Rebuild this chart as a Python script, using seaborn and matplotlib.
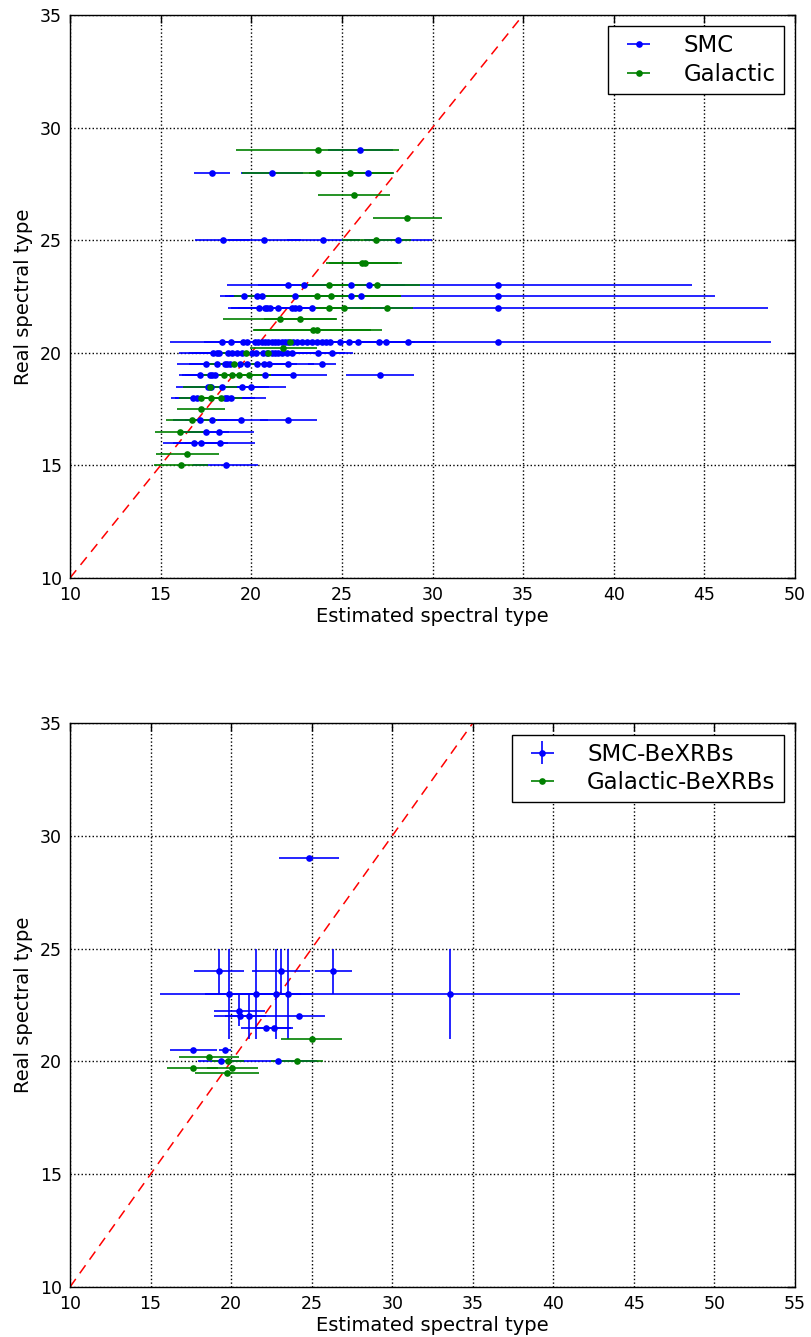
import matplotlib
matplotlib.use("Agg")
import matplotlib.pyplot as plt
import seaborn as sns
import pandas as pd

# ---------------- top panel data ----------------
smc_row_y = [29.0, 28.0, 25.0, 23.0, 22.5, 22.0, 20.5, 20.0, 19.5, 19.0, 18.5, 18.0, 17.0, 16.5, 16.0, 15.0]
smc_row_x = [
    [26.02],
    [17.83, 21.13, 26.42],
    [18.42, 20.72, 23.98, 28.08],
    [22.05, 22.9, 25.49, 26.48, 33.63],
    [19.62, 20.33, 20.59, 22.41, 25.52, 26.06, 33.63],
    [20.41, 20.77, 20.89, 21.03, 21.5, 22.23, 22.41, 22.65, 23.33, 33.63],
    [18.39, 18.88, 19.56, 19.78, 20.21, 20.39, 20.57, 20.76, 20.94, 21.13, 21.31, 21.49, 21.68, 21.86,
     22.05, 22.32, 22.54, 22.78, 23.06, 23.33, 23.61, 23.89, 24.12, 24.34, 24.9, 25.41, 25.87, 27.05,
     27.43, 28.67, 33.63],
    [17.91, 18.09, 18.22, 18.74, 18.92, 19.2, 19.47, 20.02, 20.26, 20.66, 20.85, 21.13, 21.31, 21.49,
     21.68, 21.95, 22.23, 23.66, 24.47],
    [17.5, 18.09, 18.55, 18.68, 18.83, 19.38, 19.75, 20.3, 20.7, 21.0, 22.05, 23.89],
    [17.17, 17.7, 17.85, 18.0, 20.76, 22.28, 27.1],
    [17.6, 17.8, 18.4, 19.47, 19.99],
    [16.8, 16.99, 18.55, 18.68, 18.87],
    [17.17, 17.82, 19.41, 22.05],
    [17.5, 18.24],
    [16.84, 17.21, 18.28],
    [18.6],
]
smc_row_xerr = [
    [1.8],
    [1.0, 1.7, 1.4],
    [1.5, 2.0, 2.0, 1.87],
    [3.4, 2.5, 2.0, 2.0, 10.67],
    [1.34, 1.8, 1.8, 1.8, 1.8, 1.8, 11.94],
    [1.5, 1.5, 1.2, 1.5, 1.6, 1.5, 1.5, 1.4, 1.5, 14.9],
    [2.87, 1.5, 1.4, 1.5, 1.6, 1.5, 1.4, 1.5, 1.6, 1.5, 1.4, 1.5, 1.6, 1.5,
     1.4, 1.5, 1.6, 1.5, 1.4, 1.5, 1.6, 1.5, 1.4, 1.5, 1.6, 1.5, 1.4, 1.5,
     1.6, 1.5, 15.07],
    [1.88, 1.5, 1.4, 1.5, 1.6, 1.5, 1.4, 1.5, 1.6, 1.5, 1.4, 1.5, 1.6, 1.5,
     1.4, 1.5, 1.6, 1.5, 1.13],
    [1.58, 1.5, 1.4, 1.5, 1.6, 1.5, 1.4, 1.5, 1.6, 1.5, 1.4, 0.77],
    [1.14, 1.5, 1.5, 1.5, 1.5, 1.88, 1.9],
    [1.77, 1.5, 1.5, 1.5, 1.93],
    [1.25, 1.2, 1.5, 1.5, 1.94],
    [1.5, 1.5, 1.5, 1.55],
    [1.3, 1.93],
    [1.69, 1.5, 1.92],
    [1.8],
]

gal_row_y = [29.0, 28.0, 27.0, 26.0, 25.0, 24.0, 23.0, 22.5, 22.0, 21.5, 21.0, 20.5, 20.2, 20.0,
             19.5, 19.0, 18.5, 18.0, 17.5, 17.0, 16.5, 15.5, 15.0]
gal_row_x = [[23.67], [23.67, 25.47], [25.67], [28.6], [26.9], [26.1, 26.3], [24.3, 26.92],
             [23.64, 24.38], [24.3, 25.12, 27.5], [21.59, 22.69], [23.39, 23.64], [22.14], [21.77],
             [19.73, 20.94], [19.07], [18.5, 18.94, 19.3, 19.9], [17.72], [17.23, 17.76, 18.31],
             [17.23], [16.71], [16.07], [16.47], [16.14]]
gal_row_xerr = [[4.5], [4.2, 2.3], [2.0], [1.9], [1.9], [2.0, 2.0], [1.6, 2.4], [4.6, 3.9],
                [0.8, 1.5, 1.4], [3.13, 2.0], [3.24, 3.56], [1.5], [1.85], [1.5, 1.5], [1.5],
                [1.2, 1.2, 1.2, 1.2], [1.5], [1.2, 1.2, 1.2], [1.3], [1.41], [1.38], [1.73], [1.5]]

# ---------------- bottom panel data ----------------
smcx_x = [24.82, 19.27, 23.08, 26.35, 19.85, 21.57, 22.81, 23.53, 33.59, 20.51, 20.55, 21.09,
          24.21, 22.17, 22.66, 17.65, 19.62, 19.37, 22.93]
smcx_y = [29.0, 24.0, 24.0, 24.0, 23.0, 23.0, 23.0, 23.0, 23.0, 22.25, 22.0, 22.0,
          22.0, 21.5, 21.5, 20.5, 20.5, 20.0, 20.0]
smcx_xerr = [1.86, 1.56, 1.8, 1.17, 1.5, 1.5, 1.5, 1.5, 18.0, 1.57, 1.6, 1.5,
             1.6, 1.55, 1.2, 1.47, 0.36, 1.4, 2.4]
smcx_yerr = [0.0, 1.0, 1.0, 1.0, 2.0, 2.0, 2.0, 2.0, 2.0, 0.7, 0.0, 1.0,
             0.0, 0.0, 0.0, 0.0, 0.0, 0.0, 0.0]

galx_x = [25.0, 18.63, 19.8, 24.09, 17.62, 20.08, 19.75]
galx_y = [21.0, 20.2, 20.0, 20.0, 19.7, 19.7, 19.5]
galx_xerr = [1.9, 1.87, 1.0, 1.6, 1.58, 1.6, 2.0]

diag = [10, 35]
top_xticks = [10, 15, 20, 25, 30, 35, 40, 45, 50]
bot_xticks = [10, 15, 20, 25, 30, 35, 40, 45, 50, 55]
yticks = [10, 15, 20, 25, 30, 35]


def flatten(rows_y, rows_x, rows_e):
    xs, ys, es = [], [], []
    for yv, xr, er in zip(rows_y, rows_x, rows_e):
        for xv, ev in zip(xr, er):
            xs.append(xv)
            ys.append(yv)
            es.append(ev)
    return pd.DataFrame({"x": xs, "y": ys, "xerr": es})


smc = flatten(smc_row_y, smc_row_x, smc_row_xerr)
gal = flatten(gal_row_y, gal_row_x, gal_row_xerr)

sns.set_theme(style="white")
plt.rcParams["font.family"] = ["DejaVu Sans"]
plt.rcParams["axes.edgecolor"] = "black"
plt.rcParams["axes.linewidth"] = 1.0
plt.rcParams["text.color"] = "black"
plt.rcParams["axes.labelcolor"] = "black"
plt.rcParams["xtick.color"] = "black"
plt.rcParams["ytick.color"] = "black"

fig = plt.figure(figsize=(8.11, 13.37), dpi=100)
ax1 = fig.add_axes([0.0863, 0.5677, 0.894, 0.4211])
ax2 = fig.add_axes([0.0863, 0.0374, 0.894, 0.4218])

BLUE = (0, 0, 1)
GREEN = (0, 0.5, 0)
ekw = dict(fmt="o", ms=4.8, mew=0, elinewidth=1.2, capsize=0, zorder=3)


def style(ax, xticks, xmax):
    ax.set_xlim(10, xmax)
    ax.set_ylim(10, 35)
    ax.set_xticks(xticks)
    ax.set_yticks(yticks)
    ax.grid(True, color="black", linestyle=":", linewidth=1.0, zorder=0)
    ax.tick_params(direction="in", top=True, right=True, length=6, width=1,
                   labelsize=12.5, pad=6, colors="black", labelcolor="black")
    for s in ax.spines.values():
        s.set_visible(True)
        s.set_color("black")
        s.set_linewidth(1.0)
    ax.set_xlabel("Estimated spectral type", fontsize=14, labelpad=2, color="black")
    ax.set_ylabel("Real spectral type", fontsize=14, labelpad=5, color="black")
    ax.set_facecolor("white")


def add_legend(ax):
    leg = ax.legend(loc="upper right", fontsize=16.5, fancybox=False, framealpha=1,
                    edgecolor="black", handlelength=2.0, handletextpad=0.95, borderpad=0.35,
                    labelspacing=0.25, borderaxespad=0.5)
    leg.get_frame().set_linewidth(1.0)
    for t in leg.get_texts():
        t.set_color("black")
    return leg


# top panel
sns.lineplot(x=diag, y=diag, ax=ax1, color="red", linewidth=1.1, zorder=2, legend=False)
ax1.lines[-1].set_dashes((6.5, 4.5))
ax1.errorbar(smc["x"], smc["y"], xerr=smc["xerr"], color=BLUE, label="SMC", **ekw)
ax1.errorbar(gal["x"], gal["y"], xerr=gal["xerr"], color=GREEN, label="Galactic", **ekw)
style(ax1, top_xticks, 50)
add_legend(ax1)

# bottom panel
sns.lineplot(x=diag, y=diag, ax=ax2, color="red", linewidth=1.1, zorder=2, legend=False)
ax2.lines[-1].set_dashes((6.5, 4.5))
ax2.errorbar(smcx_x, smcx_y, xerr=smcx_xerr, yerr=smcx_yerr, color=BLUE, label="SMC-BeXRBs", **ekw)
ax2.errorbar(galx_x, galx_y, xerr=galx_xerr, color=GREEN, label="Galactic-BeXRBs", **ekw)
style(ax2, bot_xticks, 55)
add_legend(ax2)

fig.savefig("out.png", dpi=100, facecolor="white")
